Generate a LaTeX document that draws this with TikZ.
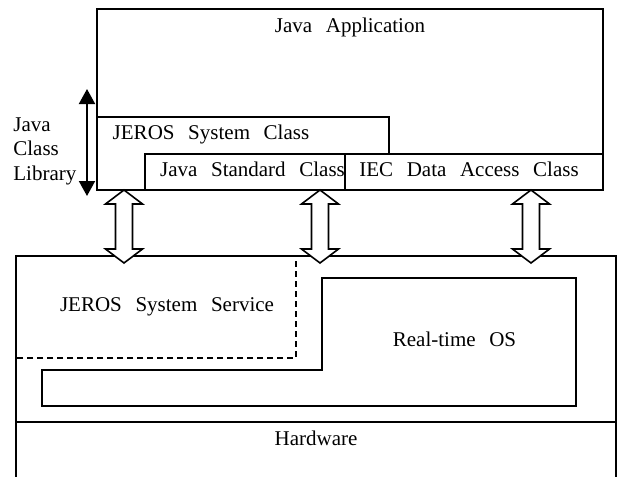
\documentclass[tikz,border=0pt]{standalone}
\usepackage{fontspec}
\setmainfont{Liberation Serif}[WordSpace=2.6]
\usetikzlibrary{arrows.meta}
\tikzset{
  layer/.style={line width=1pt},
  hollow/.style={line width=0.8pt,fill=white},
  lbl/.style={font=\fontsize{10.5}{12.3}\selectfont,inner sep=0pt,anchor=base},
}
\begin{document}
\begin{tikzpicture}[x=0.5pt,y=-0.5pt,line join=miter]
  \useasboundingbox (0,0) rectangle (618,477);
  % upper stack
  \draw[layer] (97,9) rectangle (603,190);
  \draw[layer] (97,117) -- (389,117) -- (389,154);
  \draw[layer] (145,190) -- (145,154) -- (603,154);
  \draw[layer] (345,154) -- (345,190);
  \node[lbl] (app) at (350,32) {Java Application};
  \node[lbl] (sysclass) at (211,139) {JEROS System Class};
  \node[lbl] (stdclass) at (252.5,176) {Java Standard Class};
  \node[lbl] (iecclass) at (469,176) {IEC Data Access Class};
  % class library bracket
  \coordinate (libtop) at (87,89);
  \coordinate (libbot) at (87,196);
  \draw[line width=1pt,{Triangle[length=7.5pt,width=8pt]}-{Triangle[length=7.5pt,width=8pt]}] (libtop) -- (libbot);
  \node[lbl,anchor=west,align=left] (lib) at (13,151) {Java\\Class\\Library};
  % lower stack
  \draw[layer] (16,477) -- (16,256) -- (616,256) -- (616,477);
  \draw[layer] (16,422) -- (616,422);
  \draw[line width=0.8pt,dash pattern=on 3pt off 2pt] (296,261) -- (296,358) -- (16,358);
  \draw[layer] (322,278) -- (576,278) -- (576,406) -- (42,406) -- (42,370) -- (322,370) -- cycle;
  \node[lbl] (service) at (167,311) {JEROS System Service};
  \node[lbl] (rtos) at (454.5,346) {Real-time OS};
  \node[lbl] (hw) at (316,445) {Hardware};
  % interfaces
  \foreach \x/\n in {124/a,320/b,531/c}{
    \coordinate (up\n) at (\x,190);
    \coordinate (dn\n) at (\x,263);
    \draw[hollow] (up\n) -- ++(18.5,14) -- ++(-10,0) -- ++(0,45) -- ++(10,0) -- (dn\n)
      -- ++(-18.5,-14) -- ++(10,0) -- ++(0,-45) -- ++(-10,0) -- cycle;
  }
\end{tikzpicture}
\end{document}
